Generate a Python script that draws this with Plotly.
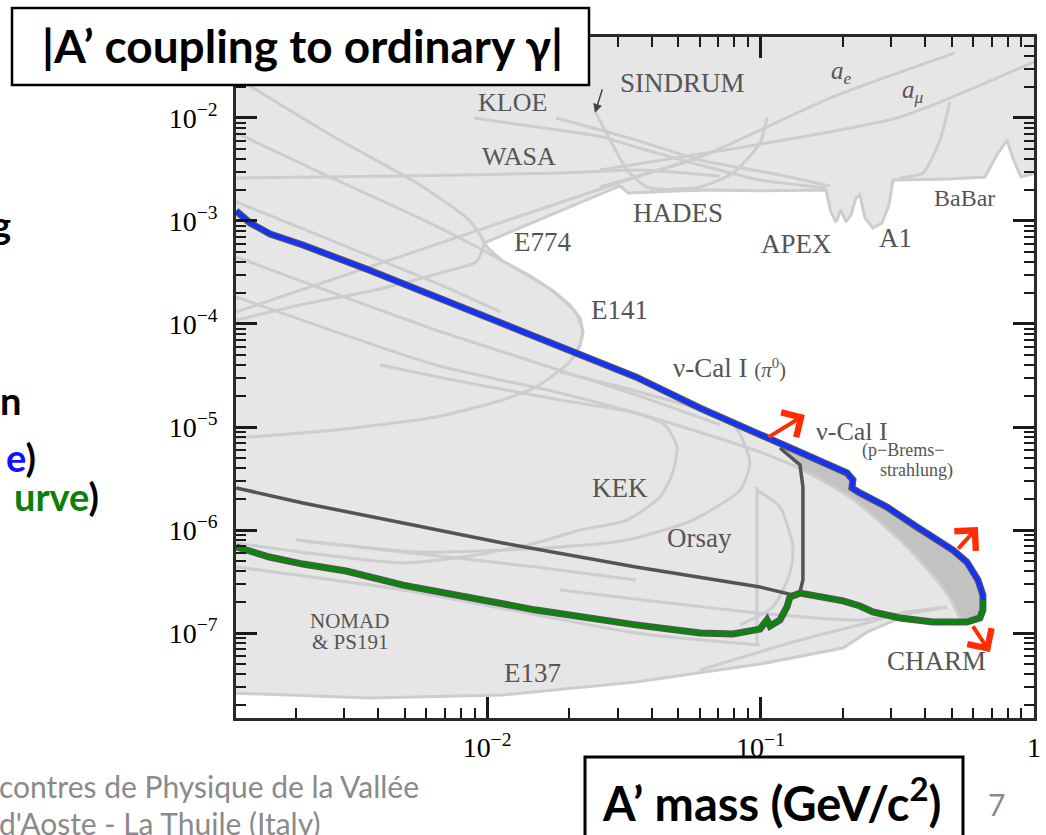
import numpy as np
import plotly.graph_objects as go

# ---------------- data ----------------
# new combined limit (blue) and its lower part (green): A' mass [GeV], coupling eps
blue_mass = [1.21e-3, 1.36e-3, 1.61e-3, 2.12e-3, 3.70e-3, 6.50e-3, 1.14e-2, 1.99e-2, 3.50e-2, 6.00e-2,
             0.1056, 0.1394, 0.2070, 0.2177, 0.2159, 0.2309, 0.2900, 0.3732, 0.5052, 0.5685, 0.6237, 0.6504, 0.6504]
blue_eps = [1.25e-3, 9.56e-4, 7.48e-4, 5.85e-4, 3.34e-4, 1.83e-4, 1.02e-4, 5.59e-5, 3.06e-5, 1.53e-5,
            7.82e-6, 5.72e-6, 3.58e-6, 3.06e-6, 2.56e-6, 2.29e-6, 1.67e-6, 1.07e-6, 6.39e-7, 4.89e-7, 3.27e-7, 2.34e-7, 2.09e-7]

green_mass = [1.21e-3, 1.60e-3, 2.12e-3, 3.05e-3, 4.93e-3, 8.59e-3, 1.51e-2, 3.50e-2, 6.00e-2, 7.93e-2,
              9.95e-2, 0.1056, 0.1083, 0.1178, 0.1249, 0.1281, 0.1394, 0.2002, 0.2309, 0.2577,
              0.3235, 0.4270, 0.5685, 0.6343, 0.6504, 0.6504]
green_eps = [6.84e-7, 5.47e-7, 4.67e-7, 4.00e-7, 2.92e-7, 2.24e-7, 1.67e-7, 1.20e-7, 1.00e-7, 9.78e-8,
             1.09e-7, 1.34e-7, 1.17e-7, 1.34e-7, 1.79e-7, 2.24e-7, 2.44e-7, 2.05e-7, 1.83e-7, 1.60e-7,
             1.40e-7, 1.28e-7, 1.28e-7, 1.40e-7, 1.67e-7, 2.09e-7]

# previous limit (dark grey): Orsay line and vertical edge
old_mass = [1.21e-3, 2.12e-3, 4.93e-3, 1.14e-2, 3.50e-2, 9.95e-2, 0.1314, 0.1394, 0.1429, 0.1429, 0.1394, 0.1178]
old_eps = [2.56e-6, 1.83e-6, 1.17e-6, 7.48e-7, 4.37e-7, 2.80e-7, 2.34e-7, 2.50e-7, 3.27e-7, 2.62e-6, 4.28e-6, 6.25e-6]

# lower edge of the upper excluded region (E774 tip -> SINDRUM/HADES -> APEX -> A1 -> BaBar)
upper_mass = [9.74e-3, 3.06e-2, 3.28e-2, 6.00e-2, 9.95e-2, 0.1735, 0.1809, 0.1887, 0.1968, 0.2053,
              0.2141, 0.2233, 0.2309, 0.2409, 0.2577, 0.2780, 0.2949, 0.3050, 0.4926, 0.6614,
              0.7318, 0.7962, 0.8375, 0.8958, 1.05]
upper_eps = [6.11e-4, 2.19e-3, 1.87e-3, 2.00e-3, 1.96e-3, 2.00e-3, 1.22e-3, 9.78e-4, 1.28e-3, 9.78e-4,
             1.14e-3, 1.67e-3, 1.79e-3, 1.07e-3, 8.55e-4, 9.56e-4, 1.43e-3, 2.50e-3, 2.56e-3, 2.67e-3,
             4.37e-3, 6.11e-3, 4.09e-3, 2.67e-3, 2.99e-3]

# lower edge of the beam-dump region (E137)
e137_mass = [1.15e-3, 3.70e-3, 1.14e-2, 3.50e-2, 9.95e-2, 0.2002, 0.2450]
e137_eps = [2.62e-8, 2.34e-8, 2.50e-8, 3.34e-8, 5.00e-8, 7.15e-8, 1.02e-7]

# E141 tip between the blue curve and the E774 tip
e141tip_mass = [2.10e-2, 2.19e-2, 2.24e-2, 2.19e-2, 2.01e-2, 1.74e-2, 1.44e-2, 1.14e-2, 1.025e-2]
e141tip_eps = [5.23e-5, 6.25e-5, 8.36e-5, 1.14e-4, 1.53e-4, 2.09e-4, 2.92e-4, 4.09e-4, 5.23e-4]

# CHARM diagonal (lower edge of the darker band)
charm_mass = [1.21e-3, 6.50e-3, 1.85e-2, 4.29e-2, 9.95e-2, 0.1429, 0.2123, 0.3235, 0.4164, 0.4926, 0.5359]
charm_eps = [1.83e-4, 4.00e-5, 2.14e-5, 1.17e-5, 5.72e-6, 3.82e-6, 2.09e-6, 8.00e-7, 3.91e-7, 2.19e-7, 1.40e-7]

# faint contour lines of the individual experiments
faint_lines = {
    "E774": ([1.30e-3, 2.80e-3, 5.69e-3, 8.59e-3, 9.74e-3, 9.11e-3, 6.73e-3, 4.06e-3, 2.07e-3, 1.21e-3],
             [2.19e-2, 6.39e-3, 2.24e-3, 1.02e-3, 6.11e-4, 4.00e-4, 3.13e-4, 2.19e-4, 1.53e-4, 1.09e-4]),
    "E141": ([1.21e-3, 2.67e-3, 6.18e-3, 1.14e-2, 1.74e-2, 2.11e-2, 2.24e-2, 2.15e-2, 1.99e-2, 1.79e-2,
              1.51e-2, 1.14e-2, 6.50e-3, 2.80e-3, 1.21e-3],
             [7.15e-3, 2.67e-3, 9.56e-4, 4.09e-4, 2.09e-4, 1.28e-4, 8.36e-5, 5.59e-5, 4.18e-5, 3.34e-5,
              2.44e-5, 1.83e-5, 1.25e-5, 9.35e-6, 7.82e-6]),
    "WASA": ([1.21e-3, 4.80e-3, 1.85e-2, 3.62e-2, 7.11e-2], [2.62e-3, 2.73e-3, 2.92e-3, 3.13e-3, 2.73e-3]),
    "straight": ([1.21e-3, 3.50e-2, 6.00e-2], [1.31e-4, 2.67e-3, 4.09e-3]),
    "ae": ([2.59e-2, 6.00e-2, 0.1840, 0.5138], [2.14e-3, 4.18e-3, 1.60e-2, 4.28e-2]),
    "amu": ([2.59e-2, 0.1056, 0.3235, 1.0], [3.13e-3, 5.72e-3, 1.02e-2, 3.50e-2]),
    "KLOE1": ([8.96e-3, 1.51e-2, 2.65e-2, 3.50e-2, 6.00e-2, 9.95e-2, 0.1735],
              [1.0e-2, 8.18e-3, 6.54e-3, 5.23e-3, 3.50e-3, 2.50e-3, 2.09e-3]),
    "KLOE2": ([1.79e-2, 3.50e-2, 6.00e-2, 0.1178, 0.1794], [1.0e-2, 6.11e-3, 3.91e-3, 2.80e-3, 2.19e-3]),
    "SINDRUM": ([2.50e-2, 2.82e-2, 3.25e-2, 3.84e-2, 6.00e-2], [1.12e-2, 6.11e-3, 3.13e-3, 2.14e-3, 1.96e-3]),
    "HADES": ([0.1056, 9.95e-2, 7.93e-2, 6.00e-2, 3.94e-2], [1.02e-2, 5.72e-3, 2.92e-3, 2.14e-3, 2.00e-3]),
    "BaBar": ([0.4926, 0.4529, 0.3926, 0.3235], [1.43e-2, 6.11e-3, 2.92e-3, 2.62e-3]),
    "nuCal_a": ([1.21e-3, 2.67e-3, 6.50e-3, 1.12e-2], [1.53e-3, 6.54e-4, 2.50e-4, 1.31e-4]),
    "nuCal_b": ([1.21e-3, 6.50e-3, 3.50e-2, 7.11e-2], [4.47e-4, 8.74e-5, 2.05e-5, 1.05e-5]),
    "CHARM": (charm_mass, charm_eps),
    "KEK": ([4.06e-3, 7.51e-3, 1.85e-2, 3.50e-2, 4.47e-2, 4.95e-2, 4.74e-2, 4.29e-2, 3.25e-2, 2.19e-2,
             1.51e-2, 8.66e-3, 4.93e-3, 2.07e-3, 1.21e-3],
            [4.00e-5, 2.86e-5, 1.83e-5, 1.37e-5, 1.05e-5, 6.39e-6, 3.42e-6, 2.09e-6, 1.25e-6, 1.0e-6,
             7.48e-7, 5.59e-7, 4.78e-7, 6.11e-7, 7.48e-7]),
    "Orsay": ([1.85e-2, 3.72e-2, 7.93e-2, 9.15e-2, 8.41e-2, 5.66e-2, 3.25e-2, 1.85e-2, 5.69e-3, 2.00e-3],
              [3.42e-5, 2.14e-5, 1.09e-5, 4.47e-6, 2.44e-6, 1.25e-6, 8.00e-7, 6.84e-7, 6.11e-7, 8.00e-7]),
    "Orsay_edge": ([9.70e-2, 9.70e-2], [2.62e-6, 8.00e-8]),
    "CHARM_b": ([9.70e-2, 0.1178, 0.1314, 0.1281, 0.1110, 8.41e-2], [2.44e-6, 1.67e-6, 6.84e-7, 3.82e-7, 1.79e-7, 1.20e-7]),
    "NOMAD": ([1.21e-3, 4.93e-3, 3.50e-2, 9.95e-2], [4.37e-7, 2.62e-7, 1.0e-7, 7.65e-8]),
    "PS191": ([1.85e-2, 9.95e-2, 0.2309, 0.4803], [2.62e-7, 1.56e-7, 1.34e-7, 1.79e-7]),
    "E137_top": ([6.00e-2, 0.1394, 0.2450, 0.3235, 0.4803], [4.38e-8, 8.55e-8, 1.25e-7, 1.56e-7, 1.79e-7]),
    "NOMAD2": ([2.00e-3, 1.51e-2, 3.50e-2], [8.00e-7, 4.37e-7, 3.27e-7]),
}

# region labels: (text, mass, eps, size)
region_labels = [
    ("SINDRUM", 5.20e-2, 2.19e-2, 27), ("KLOE", 1.24e-2, 1.40e-2, 26), ("WASA", 1.31e-2, 4.18e-3, 26),
    ("HADES", 4.99e-2, 1.20e-3, 27), ("E774", 1.60e-2, 6.25e-4, 27), ("APEX", 0.1359, 5.98e-4, 27),
    ("A1", 0.3128, 6.84e-4, 27), ("BaBar", 0.5589, 1.67e-3, 24), ("E141", 3.06e-2, 1.37e-4, 27),
    ("ν-Cal I <span style='font-size:21px'>(<i>π</i><sup>0</sup>)</span>", 7.73e-2, 3.74e-5, 27),
    ("ν-Cal I", 0.2159, 9.10e-6, 26), ("(p−Brems−", 0.3318, 5.98e-6, 18), ("strahlung)", 0.3732, 3.82e-6, 18),
    ("KEK", 3.06e-2, 2.56e-6, 27), ("Orsay", 6.00e-2, 8.36e-7, 27), ("NOMAD", 3.15e-3, 1.30e-7, 21),
    ("&amp; PS191", 3.15e-3, 8.20e-8, 21), ("E137", 1.47e-2, 4.09e-8, 27), ("CHARM", 0.4417, 5.35e-8, 27),
    ("<i>a<sub>e</sub></i>", 0.1985, 2.74e-2, 25), ("<i>a<sub>μ</sub></i>", 0.3608, 1.79e-2, 25),
]

# red arrows: (tail mass, tail eps, head mass, head eps)
red_arrows = [(0.1056, 7.82e-6, 0.1453, 1.31e-5), (0.5225, 6.39e-7, 0.6237, 1.07e-6), (0.5929, 1.20e-7, 0.6902, 6.54e-8)]
kloe_arrow = (2.65e-2, 1.96e-2, 2.48e-2, 1.12e-2)

x_tickvals = [1e-2, 1e-1, 1]
x_ticktext = ["10<sup>−2</sup>", "10<sup>−1</sup>", "1"]
y_tickvals = [1e-7, 1e-6, 1e-5, 1e-4, 1e-3, 1e-2]
y_ticktext = ["10<sup>−7</sup>", "10<sup>−6</sup>", "10<sup>−5</sup>", "10<sup>−4</sup>", "10<sup>−3</sup>", "10<sup>−2</sup>"]

# ---------------- figure ----------------
W, H = 1046, 835
L, R, T, B = 236, 1034, 37, 718
LIGHT = "#cdcdcd"
SERIF = "Liberation Serif"
SANS = "Lato"

def px(xp):
    return (xp - L) / (R - L)

def py(yp):
    return (B - yp) / (B - T)

fig = go.Figure()

# white (allowed) region
lo_pad, hi_pad = 1.0e-8, 1.15e-3
g_tail = [(m, e) for m, e in zip(green_mass, green_eps) if m >= 0.32]
b_rev = [(m, e) for m, e in zip(blue_mass, blue_eps) if m >= 0.035][::-1]
wx = (upper_mass + [upper_mass[-1], hi_pad] + e137_mass + [m for m, _ in g_tail] + [m for m, _ in b_rev]
      + e141tip_mass + [upper_mass[0]])
wy = (upper_eps + [lo_pad, lo_pad] + e137_eps + [e for _, e in g_tail] + [e for _, e in b_rev]
      + e141tip_eps + [upper_eps[0]])
fig.add_trace(go.Scatter(x=wx, y=wy, mode="lines", fill="toself", fillcolor="white",
                         line=dict(color=LIGHT, width=3), hoverinfo="skip"))

# darker band between old and new limit
b_band = [(m, e) for m, e in zip(blue_mass, blue_eps) if m > 0.12]
g_band = [(m, e) for m, e in zip(green_mass, green_eps) if m >= 0.56][::-1]
c_band = [(m, e) for m, e in zip(charm_mass, charm_eps) if m >= 0.14][::-1]
mx = [old_mass[-1]] + [m for m, _ in b_band] + [m for m, _ in g_band] + [m for m, _ in c_band] + [old_mass[-2], old_mass[-1]]
my = [old_eps[-1]] + [e for _, e in b_band] + [e for _, e in g_band] + [e for _, e in c_band] + [old_eps[-2], old_eps[-1]]
fig.add_trace(go.Scatter(x=mx, y=my, mode="lines", fill="toself", fillcolor="#c2c2c2",
                         line=dict(width=0), hoverinfo="skip"))

for name, (xs, ys) in faint_lines.items():
    fig.add_trace(go.Scatter(x=xs, y=ys, mode="lines", line=dict(color=LIGHT, width=3, shape="spline", smoothing=0.6),
                             hoverinfo="skip"))

fig.add_trace(go.Scatter(x=old_mass, y=old_eps, mode="lines", line=dict(color="#545454", width=3.5), hoverinfo="skip"))
fig.add_trace(go.Scatter(x=green_mass, y=green_eps, mode="lines", line=dict(color="#545454", width=7), hoverinfo="skip"))
fig.add_trace(go.Scatter(x=green_mass, y=green_eps, mode="lines", line=dict(color="rgb(10,135,10)", width=4.5), hoverinfo="skip"))
fig.add_trace(go.Scatter(x=blue_mass, y=blue_eps, mode="lines", line=dict(color="#545454", width=7), hoverinfo="skip"))
fig.add_trace(go.Scatter(x=blue_mass, y=blue_eps, mode="lines", line=dict(color="rgb(20,50,255)", width=4.5), hoverinfo="skip"))

ann = []
for text, m, e, s in region_labels:
    ann.append(dict(x=np.log10(m), y=np.log10(e), xref="x", yref="y", text=text, showarrow=False,
                    xanchor="center", yanchor="middle",
                    font=dict(family=SERIF, size=s, color="#555555")))
for tm, te, hm, he in red_arrows:
    ann.append(dict(x=np.log10(hm), y=np.log10(he), ax=np.log10(tm), ay=np.log10(te), xref="x", yref="y",
                    axref="x", ayref="y", text="", showarrow=True, arrowhead=4, arrowsize=1.4,
                    arrowwidth=4, arrowcolor="rgb(255,45,0)"))
tm, te, hm, he = kloe_arrow
ann.append(dict(x=np.log10(hm), y=np.log10(he), ax=np.log10(tm), ay=np.log10(te), xref="x", yref="y",
                axref="x", ayref="y", text="", showarrow=True, arrowhead=2, arrowsize=1.2,
                arrowwidth=1.5, arrowcolor="#444444"))

# slide texts
def slide_text(x, y, text, size, color="black", xanchor="center"):
    ann.append(dict(x=px(x), y=py(y), xref="paper", yref="paper", xanchor=xanchor, yanchor="middle",
                    text=text, showarrow=False, font=dict(family=SANS, size=size, color=color)))

slide_text(302, 46, "<b>|A’ coupling to ordinary γ|</b>", 46)
slide_text(771, 800, "<b>A’ mass (GeV/c<sup>2</sup>)</b>", 47)
slide_text(-3, 786, "contres de Physique de la Vallée", 30, "#8a8a8a", "left")
slide_text(-3, 823, "d'Aoste - La Thuile (Italy)", 30, "#8a8a8a", "left")
slide_text(996, 804, "7", 30, "#8a8a8a")
for txt, xr, yc in [("<b>g</b>", 13, 224), ("<b>n</b>", 23, 400),
                    ("<b><span style='color:#1010ff'>e</span>)</b>", 38, 457),
                    ("<b><span style='color:#0a800a'>urve</span>)</b>", 101, 496)]:
    slide_text(xr, yc, txt, 38, "black", "right")

shapes = [
    dict(type="rect", xref="paper", yref="paper", x0=px(12), x1=px(589), y0=py(85), y1=py(8),
         line=dict(color="black", width=2.5), fillcolor="white", layer="above"),
    dict(type="rect", xref="paper", yref="paper", x0=px(585), x1=px(963), y0=py(850), y1=py(757),
         line=dict(color="black", width=3), fillcolor="white", layer="above"),
]

minor_x = [k * 10.0 ** p for p in (-3, -2, -1) for k in range(2, 10)]
minor_y = [k * 10.0 ** p for p in range(-8, -1) for k in range(2, 10)]

axis_common = dict(type="log", showgrid=False, zeroline=False, showline=True, linecolor="#2a2a2a", linewidth=2.5,
                   mirror="allticks", ticks="inside", ticklen=21, tickwidth=2.5, tickcolor="#1a1a1a",
                   tickfont=dict(family=SERIF, size=28, color="black"), automargin=False)

fig.update_layout(
    width=W, height=H, autosize=False, template="none",
    margin=dict(l=L, r=W - R, t=T, b=H - B, pad=0),
    paper_bgcolor="white", plot_bgcolor="#e6e6e6", showlegend=False,
    xaxis=dict(range=[-2.918, 0.0], tickvals=x_tickvals, ticktext=x_ticktext, ticklabelstandoff=3,
               minor=dict(ticks="inside", ticklen=10, tickwidth=2.2, tickcolor="#1a1a1a", tickvals=minor_x),
               **axis_common),
    yaxis=dict(range=[-7.825, -1.214], tickvals=y_tickvals, ticktext=y_ticktext, ticklabelstandoff=10,
               minor=dict(ticks="inside", ticklen=10, tickwidth=2.2, tickcolor="#1a1a1a", tickvals=minor_y),
               **axis_common),
    annotations=ann, shapes=shapes,
)

fig.write_html("out.html", config={"displayModeBar": False},
               post_script="document.body.style.margin='0';document.body.style.overflow='hidden';")
